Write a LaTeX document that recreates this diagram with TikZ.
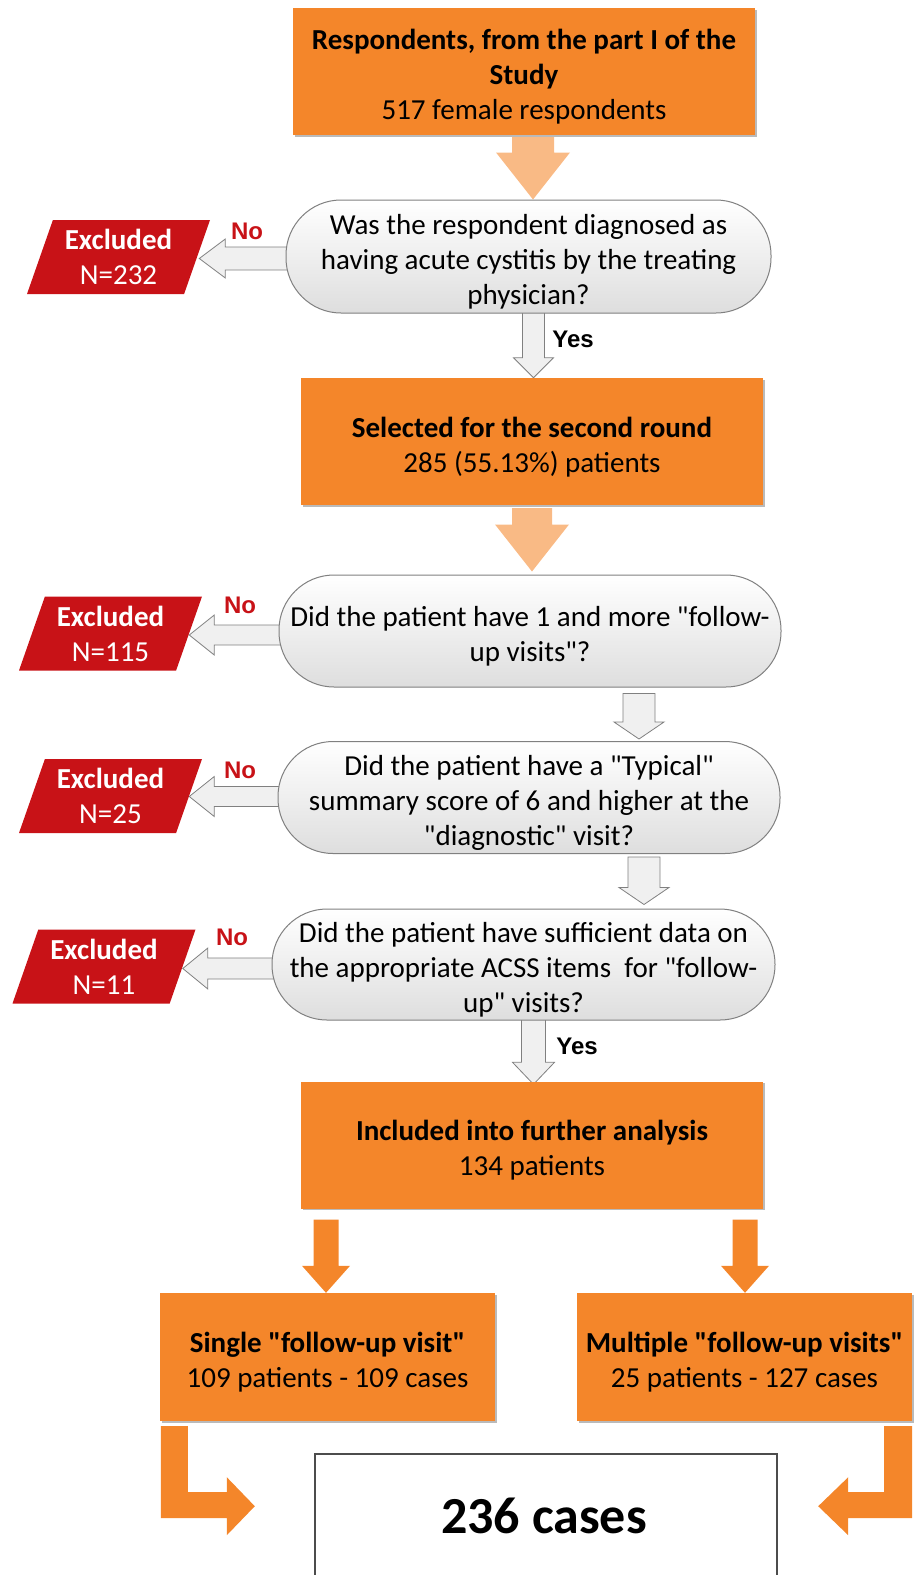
\documentclass[tikz,border=0pt]{standalone}
\usepackage{fontspec}
\setmainfont{Carlito}
\newfontfamily\arialfont{Liberation Sans}
\usetikzlibrary{shapes.geometric,calc,shadows,backgrounds}

\definecolor{boxorange}{RGB}{244,134,42}
\definecolor{lightorange}{RGB}{249,186,133}
\definecolor{exred}{RGB}{200,18,23}
\definecolor{edgegray}{RGB}{128,128,128}

\newcommand{\qt}{\textquotedbl}
\newcommand{\tp}{\rule{0pt}{31pt}}
% block arrow pointing down: style, from, to, shaft half width, head half width, head length
\newcommand{\vblock}[6]{%
  \path[#1] let \p1=(#2), \p2=(#3) in
    (\x1-#4,\y1) -- (\x1+#4,\y1) -- (\x1+#4,\y2+#6) -- (\x1+#5,\y2+#6) --
    (\x1,\y2) -- (\x1-#5,\y2+#6) -- (\x1-#4,\y2+#6) -- cycle;}
% block arrow pointing left
\newcommand{\hblock}[6]{%
  \path[#1] let \p1=(#2), \p2=(#3) in
    (\x1,\y1+#4) -- (\x2+#6,\y1+#4) -- (\x2+#6,\y1+#5) -- (\x2,\y1) --
    (\x2+#6,\y1-#5) -- (\x2+#6,\y1-#4) -- (\x1,\y1-#4) -- cycle;}

\begin{document}
\begin{tikzpicture}[x=1pt,y=-1pt,font=\fontsize{29}{35}\selectfont,
  orbox/.style={fill=boxorange, minimum width=462pt, minimum height=127pt, inner sep=2pt, align=center,
    drop shadow={shadow xshift=1.5pt, shadow yshift=-1.5pt, fill=black!45, opacity=.6}},
  casebox/.style={orbox, minimum width=335pt, minimum height=128pt},
  decbox/.style={draw=edgegray, line width=1pt, rounded corners=55pt, top color=white, bottom color=black!13,
    minimum width=502pt, minimum height=112pt, inner sep=2pt, align=center},
  exbox/.style={trapezium, trapezium left angle=65, trapezium right angle=115, trapezium stretches body=true,
    fill=exred, text=white, minimum width=183pt, minimum height=74pt, inner sep=0pt, align=center},
  finbox/.style={draw=black!70, line width=1.2pt, fill=white, minimum width=462pt, minimum height=160pt},
  lightarrow/.style={fill=lightorange},
  grayarrow/.style={draw=edgegray, line width=.8pt, fill=black!6},
  orarrow/.style={fill=boxorange},
  yn/.style={font=\arialfont\bfseries\fontsize{24}{24}\selectfont}]
\useasboundingbox (0,0) rectangle (917,1575);

% boxes
\node[orbox] (b1) at (524,71.5) {\tp\bfseries Respondents, from the part I of the\\\bfseries Study\\517 female respondents};
\node[decbox, minimum width=485pt, minimum height=113pt] (d1) at (528.5,256.5) {\tp Was the respondent diagnosed as\\having acute cystitis by the treating\\physician?};
\node[exbox] (ex1) at (118.5,257) {\bfseries Excluded\\N=232};
\node[orbox] (b2) at (532,441.5) {\tp\bfseries Selected for the second round\\285 (55.13\%) patients};
\node[decbox] (d2) at (530,631) {\tp Did the patient have 1 and more \qt follow-\\up visits\qt?};
\node[exbox] (ex2) at (110.5,633.5) {\bfseries Excluded\\N=115};
\node[decbox] (d3) at (529,797.5) {\tp Did the patient have a \qt Typical\qt\\summary score of 6 and higher at the\\\qt diagnostic\qt\ visit?};
\node[exbox] (ex3) at (110.5,796) {\bfseries Excluded\\N=25};
\node[decbox, minimum width=503pt, minimum height=111pt] (d4) at (523.5,964.5) {\tp Did the patient have sufficient data on\\the appropriate ACSS items\ \ for \qt follow-\\up\qt\ visits?};
\node[exbox] (ex4) at (104,966.5) {\bfseries Excluded\\N=11};
\node[orbox] (b3) at (532,1145) {\tp\bfseries Included into further analysis\\134 patients};
\node[casebox] (sgl) at (327.5,1357) {\tp\bfseries Single \qt follow-up visit\qt\\109 patients - 109 cases};
\node[casebox] (mul) at (744.5,1357) {\tp\bfseries Multiple \qt follow-up visits\qt\\25 patients - 127 cases};
\node[finbox] (fin) at (546,1534) {};
\node[font=\bfseries\fontsize{52}{52}\selectfont] (total) at (544,1516) {236 cases};

% labels
\node[yn, text=exred] (no1) at (247,231) {No};
\node[yn, text=exred] (no2) at (240,605) {No};
\node[yn, text=exred] (no3) at (240,770) {No};
\node[yn, text=exred] (no4) at (232,937) {No};
\node[yn] (yes1) at (573,339) {Yes};
\node[yn] (yes2) at (577,1046) {Yes};

% arrows
\begin{pgfonlayer}{background}
\vblock{lightarrow}{$(b1.south)+(9,2)$}{d1.north}{21pt}{37pt}{47pt}
\vblock{lightarrow}{$(b2.south)+(0,3)$}{$(d2.north)+(0,-3)$}{20pt}{37pt}{47pt}
\vblock{grayarrow}{$(d1.south)+(5,-4)$}{b2.north}{11pt}{20pt}{20pt}
\vblock{grayarrow}{$(d2.south)+(109,6)$}{$(d3.north)+(0,-2)$}{16pt}{25pt}{17pt}
\vblock{grayarrow}{$(d3.south)+(115,3)$}{$(d4.north)+(0,-4)$}{16pt}{25pt}{17pt}
\vblock{grayarrow}{$(d4.south)+(10,-4)$}{$(b3.north)+(0,3)$}{12pt}{21pt}{22pt}
\hblock{grayarrow}{$(d1.west)+(4,2)$}{$(ex1.east)+(2,0)$}{11.5pt}{19.5pt}{26pt}
\hblock{grayarrow}{$(d2.west)+(4,4)$}{$(ex2.east)+(0,0)$}{10pt}{20pt}{25pt}
\hblock{grayarrow}{$(d3.west)+(4,-1)$}{$(ex3.east)+(0,0)$}{10pt}{20pt}{25pt}
\hblock{grayarrow}{$(d4.west)+(4,4)$}{$(ex4.east)+(0,0)$}{10.5pt}{20.5pt}{25pt}
\vblock{orarrow}{$(b3.south)+(-206,11)$}{sgl.north}{12.5pt}{24pt}{27pt}
\vblock{orarrow}{$(b3.south)+(213,11)$}{mul.north}{12.5pt}{24pt}{27pt}
\end{pgfonlayer}
\fill[orarrow, shift={(sgl.south west)}] (1,5) -- (28,5) -- (28,71) -- (67,71) -- (67,56) -- (95,85)
  -- (67,114) -- (67,97) -- (1,97) -- cycle;
\fill[orarrow, shift={(mul.south east)}] (0,5) -- (-28,5) -- (-28,71) -- (-64,71) -- (-64,56) -- (-94,85)
  -- (-64,114) -- (-64,97) -- (0,97) -- cycle;
\end{tikzpicture}
\end{document}
